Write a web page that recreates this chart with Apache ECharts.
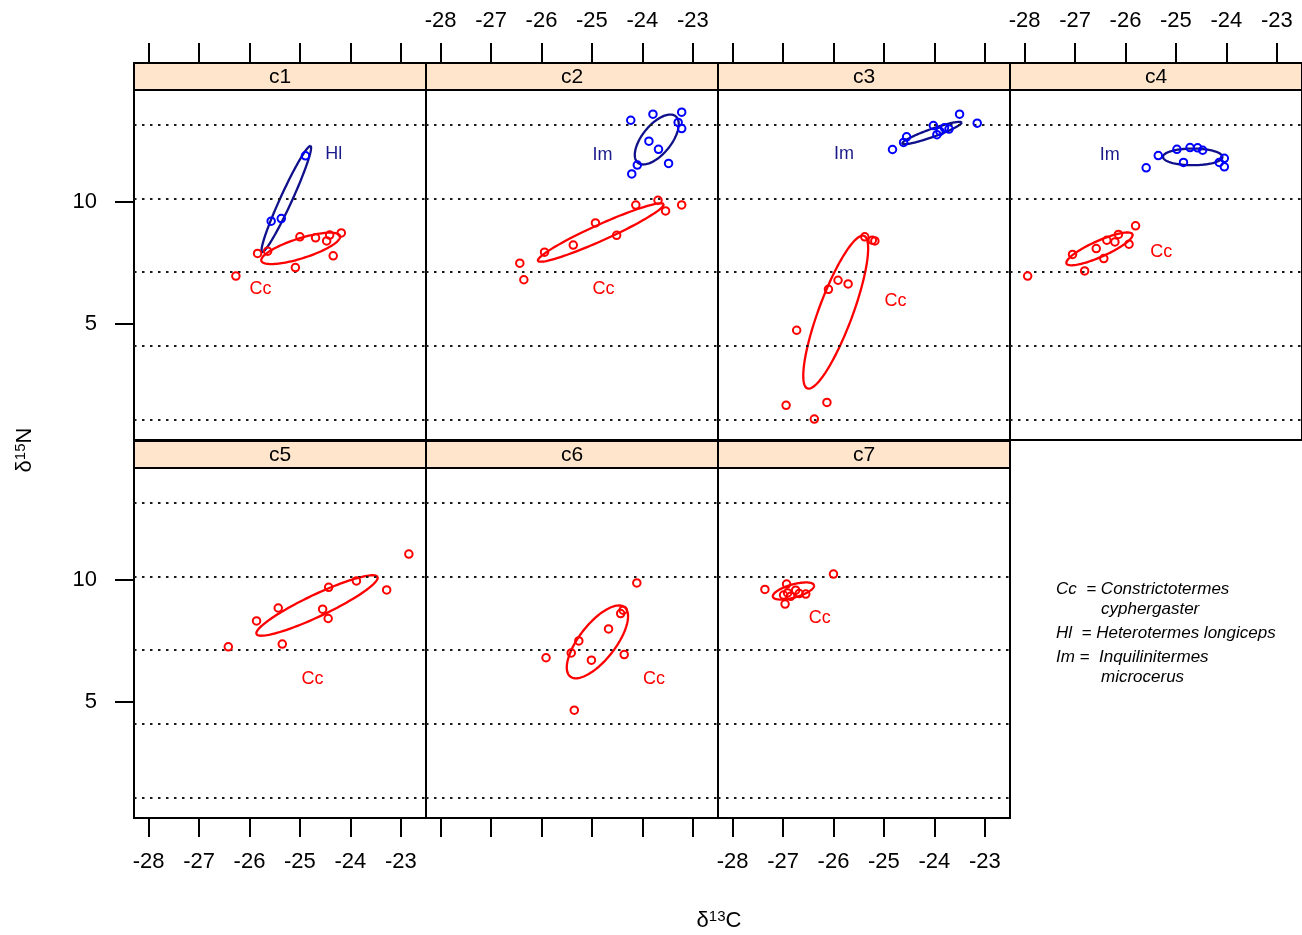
<!DOCTYPE html>
<html><head><meta charset="utf-8">
<script src="https://cdn.jsdelivr.net/npm/echarts@6/dist/echarts.min.js"></script>
<style>html,body{margin:0;padding:0;background:#fff}#chart{width:1302px;height:935px}</style>
</head><body><div id="chart"></div>
<script>
// ---------- data ----------
const panelNames = ['c1','c2','c3','c4','c5','c6','c7'];
const xTicks = [-28,-27,-26,-25,-24,-23];
const yTicks = [5,10];
const refLines = [1.1, 4.12, 7.13, 10.14, 13.16];
const xRange = [-28.29, -22.5];
const yRange = [0.25, 14.6];

const c1_Cc = [[-25.84,7.90],[-25.64,7.99],[-25.00,8.58],[-24.69,8.54],[-24.41,8.65],[-24.47,8.41],[-24.18,8.74],[-24.34,7.80],[-25.09,7.32],[-26.27,6.97]];
const c1_Hl = [[-24.89,11.90],[-25.57,9.22],[-25.37,9.33]];
const c2_Cc = [[-26.43,7.50],[-26.35,6.82],[-25.94,7.95],[-25.37,8.24],[-24.93,9.15],[-24.51,8.64],[-24.13,9.88],[-23.69,10.08],[-23.54,9.64],[-23.22,9.89]];
const c2_Im = [[-24.23,13.36],[-23.79,13.61],[-23.22,13.69],[-23.29,13.27],[-23.22,13.02],[-23.87,12.50],[-23.68,12.17],[-23.48,11.59],[-24.10,11.52],[-24.21,11.16]];
const c3_Cc = [[-25.38,8.58],[-25.23,8.44],[-25.18,8.41],[-25.91,6.80],[-26.10,6.43],[-25.71,6.65],[-26.73,4.75],[-26.94,1.67],[-26.13,1.79],[-26.38,1.11]];
const c3_Im = [[-23.50,13.61],[-23.15,13.24],[-24.02,13.14],[-23.71,13.00],[-23.89,12.90],[-23.95,12.77],[-23.80,13.05],[-24.55,12.68],[-24.61,12.45],[-24.83,12.16]];
const c4_Cc = [[-27.94,6.97],[-27.05,7.86],[-26.81,7.18],[-26.58,8.10],[-26.43,7.69],[-26.37,8.44],[-26.21,8.37],[-26.14,8.68],[-25.93,8.28],[-25.80,9.03]];
const c4_Im = [[-25.35,11.91],[-25.59,11.41],[-24.98,12.17],[-24.72,12.24],[-24.57,12.23],[-24.47,12.13],[-24.85,11.63],[-24.04,11.80],[-24.14,11.63],[-24.04,11.45]];
const c5_Cc = [[-22.84,11.07],[-23.88,9.97],[-23.28,9.60],[-24.43,9.71],[-25.43,8.86],[-24.55,8.81],[-24.44,8.43],[-25.86,8.33],[-25.35,7.38],[-26.42,7.27]];
const c6_Cc = [[-24.11,9.89],[-24.38,8.77],[-24.43,8.63],[-24.67,8.00],[-25.26,7.51],[-25.41,7.02],[-25.01,6.72],[-24.36,6.95],[-25.91,6.82],[-25.35,4.67]];
const c7_Cc = [[-27.36,9.62],[-26.93,9.84],[-26.96,9.02],[-26.99,9.39],[-26.91,9.48],[-26.75,9.59],[-26.68,9.45],[-26.55,9.43],[-26.00,10.25],[-26.85,9.34]];

// ellipses: [centre x, centre y, axis tip x, axis tip y, conjugate tip x, conjugate tip y]
const ell_c1_Cc = [-24.984, 8.107, -24.204, 8.619, -24.925, 7.717];
const ell_c1_Hl = [-25.27, 10.13, -24.79, 12.30, -25.165, 10.03];
const ell_c2_Cc = [-24.825, 8.758, -23.581, 9.918, -24.760, 8.459];
const ell_c2_Im = [-23.714, 12.570, -23.339, 13.523, -23.492, 12.195];
const ell_c3_Cc = [-25.956, 5.492, -25.395, 8.619, -25.641, 5.250];
const ell_c3_Im = [-24.048, 12.836, -23.462, 13.266, -24.022, 12.680];
const ell_c4_Cc = [-26.516, 8.086, -25.863, 8.689, -26.450, 7.787];
const ell_c4_Im = [-24.667, 11.857, -24.077, 11.857, -24.667, 11.516];
const ell_c5_Cc = [-24.661, 8.963, -23.462, 10.135, -24.567, 8.557];
const ell_c6_Cc = [-24.891, 7.471, -24.353, 8.893, -24.609, 7.016];
const ell_c7_Cc = [-26.794, 9.557, -26.387, 9.795, -26.758, 9.299];

// group label positions
const lab_c1 = [['Cc',-25.78,6.43],['Hl',-24.33,11.97]];
const lab_c2 = [['Cc',-24.77,6.42],['Im',-24.79,11.95]];
const lab_c3 = [['Cc',-24.77,5.95],['Im',-25.79,11.97]];
const lab_c4 = [['Cc',-25.29,7.94],['Im',-26.31,11.95]];
const lab_c5 = [['Cc',-24.75,5.93]];
const lab_c6 = [['Cc',-23.77,5.93]];
const lab_c7 = [['Cc',-26.27,8.45]];

const legendLines = [
  ['Cc  = Constrictotermes', 0], ['cyphergaster', 1],
  ['Hl  = Heterotermes longiceps', 0],
  ['Im =  Inquilinitermes', 0], ['microcerus', 1]
];

// ---------- layout / style ----------
const FONT = 'Liberation Sans, Arial, Helvetica, sans-serif';
const RED = '#FF0000', BLUE = '#0000FF', NAVY = '#10108A';
const colLeft = [134, 426, 718, 1010];
const rowTop = [90, 468];
const PW = 292, PH = 350, STRIP = 27;

const panels = [
  {groups:[{sp:'Cc',pts:c1_Cc,ell:ell_c1_Cc},{sp:'Hl',pts:c1_Hl,ell:ell_c1_Hl}], labels:lab_c1},
  {groups:[{sp:'Cc',pts:c2_Cc,ell:ell_c2_Cc},{sp:'Im',pts:c2_Im,ell:ell_c2_Im}], labels:lab_c2},
  {groups:[{sp:'Cc',pts:c3_Cc,ell:ell_c3_Cc},{sp:'Im',pts:c3_Im,ell:ell_c3_Im}], labels:lab_c3},
  {groups:[{sp:'Cc',pts:c4_Cc,ell:ell_c4_Cc},{sp:'Im',pts:c4_Im,ell:ell_c4_Im}], labels:lab_c4},
  {groups:[{sp:'Cc',pts:c5_Cc,ell:ell_c5_Cc}], labels:lab_c5},
  {groups:[{sp:'Cc',pts:c6_Cc,ell:ell_c6_Cc}], labels:lab_c6},
  {groups:[{sp:'Cc',pts:c7_Cc,ell:ell_c7_Cc}], labels:lab_c7}
];

const grids = [], xAxes = [], yAxes = [], series = [], graphics = [];

panelNames.forEach((nm, i) => {
  const row = i < 4 ? 0 : 1, col = i < 4 ? i : i - 4;
  const left = colLeft[col], top = rowTop[row];
  grids.push({left, top, width: PW, height: PH, show: true, borderColor: '#000', borderWidth: 2,
    backgroundColor: 'transparent', containLabel: false, outerBoundsMode: 'none'});
  const xLabels = (row === 0 && (col === 1 || col === 3)) || (row === 1 && (col === 0 || col === 2));
  xAxes.push({type: 'value', gridIndex: i, min: xRange[0], max: xRange[1],
    position: row === 0 ? 'top' : 'bottom', offset: row === 0 ? STRIP : 0,
    splitLine: {show: false},
    axisLine: {show: false},
    axisTick: {show: true, inside: false, length: row === 0 ? 20 : 19, customValues: xTicks,
      lineStyle: {color: '#000', width: 2}},
    axisLabel: {show: xLabels, customValues: xTicks, fontSize: 22, color: '#000', fontFamily: FONT,
      margin: row === 0 ? 31 : 33, formatter: v => String(v)}});
  yAxes.push({type: 'value', gridIndex: i, min: yRange[0], max: yRange[1], position: 'left',
    splitLine: {show: false}, axisLine: {show: false},
    axisTick: {show: col === 0, inside: false, length: 19, customValues: yTicks, lineStyle: {color: '#000', width: 2}},
    axisLabel: {show: col === 0, customValues: yTicks, fontSize: 22, color: '#000', fontFamily: FONT, margin: 37}});

  const p = panels[i];
  p.groups.forEach((g, gi) => {
    const isCc = g.sp === 'Cc';
    const s = {type: 'scatter', xAxisIndex: i, yAxisIndex: i, data: g.pts, symbol: 'circle', symbolSize: 7.5,
      itemStyle: {color: 'rgba(0,0,0,0)', borderColor: isCc ? RED : BLUE, borderWidth: 2, opacity: 1},
      silent: true, z: 5, animation: false};
    if (gi === 0) {
      s.markLine = {silent: true, symbol: ['none','none'], label: {show: false}, animation: false,
        lineStyle: {color: '#1a1a1a', width: 2, type: [2.5, 5.5], opacity: 1},
        data: refLines.map(v => ({yAxis: v}))};
    }
    series.push(s);
    const ellColor = isCc ? RED : NAVY;
    series.push({type: 'custom', xAxisIndex: i, yAxisIndex: i, data: [g.ell], clip: true, silent: true, z: 4,
      encode: {x: [0, 2, 4], y: [1, 3, 5]}, animation: false,
      renderItem: function (params, api) {
        const c = api.coord([api.value(0), api.value(1)]);
        const a = api.coord([api.value(2), api.value(3)]);
        const b = api.coord([api.value(4), api.value(5)]);
        const ux = a[0]-c[0], uy = a[1]-c[1], vx = b[0]-c[0], vy = b[1]-c[1];
        const pts = [];
        for (let k = 0; k <= 120; k++) {
          const t = k / 120 * 2 * Math.PI;
          pts.push([c[0] + ux*Math.cos(t) + vx*Math.sin(t), c[1] + uy*Math.cos(t) + vy*Math.sin(t)]);
        }
        return {type: 'polyline', shape: {points: pts}, style: {stroke: ellColor, fill: null, lineWidth: 2.3}};
      }});
  });
  series.push({type: 'scatter', xAxisIndex: i, yAxisIndex: i, silent: true, z: 6, animation: false,
    symbol: 'circle', symbolSize: 1, itemStyle: {color: 'rgba(0,0,0,0)', opacity: 1},
    data: p.labels.map(l => ({name: l[0], value: [l[1], l[2]],
      label: {color: l[0] === 'Cc' ? RED : '#1A1A8A'}})),
    label: {show: true, position: 'inside', formatter: '{b}', fontSize: 18, fontFamily: FONT, opacity: 1}});

  // strip
  graphics.push({type: 'rect', shape: {x: left, y: top - STRIP, width: PW, height: STRIP}, z: 10,
    style: {fill: '#FFE5CC', stroke: '#000', lineWidth: 2}});
  graphics.push({type: 'text', x: left + PW/2, y: top - STRIP/2 + 1, z: 11,
    style: {text: nm, fontSize: 21, fontFamily: FONT, fill: '#000', align: 'center', verticalAlign: 'middle'}});
});

// axis titles
const richTitle = {d: {fontSize: 22, fontFamily: FONT, fill: '#000'}, s: {fontSize: 15, fontFamily: FONT, fill: '#000', verticalAlign: 'top', padding: [0,0,9,0]}};
graphics.push({type: 'text', x: 25, y: 450, rotation: Math.PI/2, z: 11,
  style: {text: '{d|δ}{s|15}{d|N}', align: 'center', verticalAlign: 'middle', rich: richTitle}});
graphics.push({type: 'text', x: 719, y: 921, z: 11,
  style: {text: '{d|δ}{s|13}{d|C}', align: 'center', verticalAlign: 'middle', rich: richTitle}});

// legend text
const legY = [589, 609, 633, 657, 677];
legendLines.forEach((l, k) => {
  graphics.push({type: 'text', x: l[1] ? 1101 : 1056, y: legY[k], z: 11,
    style: {text: l[0], fontSize: 17, fontStyle: 'italic', fontFamily: FONT, fill: '#000', align: 'left', verticalAlign: 'middle'}});
});

const chart = echarts.init(document.getElementById('chart'), null, {renderer: 'canvas'});
chart.setOption({animation: false, backgroundColor: '#fff', grid: grids, xAxis: xAxes, yAxis: yAxes, series, graphic: graphics});
</script></body></html>
